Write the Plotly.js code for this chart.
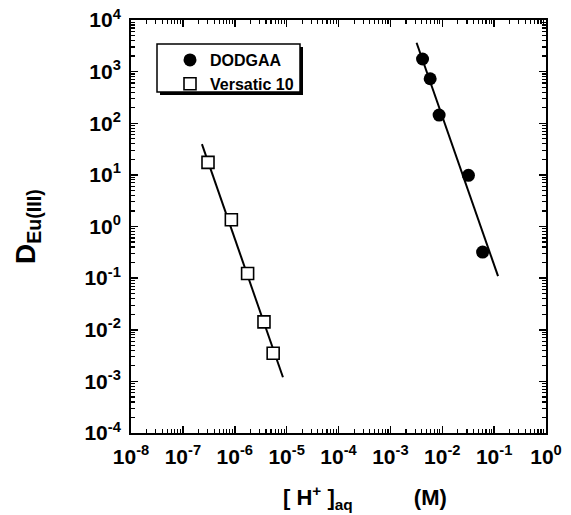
<!DOCTYPE html>
<html>
<head>
<meta charset="utf-8">
<script src="https://cdn.plot.ly/plotly-3.0.1.min.js"></script>
<style>html,body{margin:0;padding:0;background:#fff;}#chart{width:571px;height:515px;}</style>
</head>
<body>
<div id="chart"></div>
<script>
// ---- data ----
const versaticH = [3.05e-7, 8.6e-7, 1.77e-6, 3.66e-6, 5.5e-6];
const versaticD = [17.5, 1.35, 0.123, 0.0142, 0.0035];
const dodgaaH = [4.17e-3, 5.85e-3, 8.7e-3, 0.032, 0.060];
const dodgaaD = [1755, 728, 144, 9.8, 0.32];
const versaticFitH = [2.33e-7, 8.5e-6];
const versaticFitD = [39.5, 1.2e-3];
const dodgaaFitH = [3.2e-3, 0.119];
const dodgaaFitD = [3630, 0.109];
const xTickVals = [1e-8, 1e-7, 1e-6, 1e-5, 1e-4, 1e-3, 1e-2, 1e-1, 1];
const xTickText = ['10<sup>-8</sup>','10<sup>-7</sup>','10<sup>-6</sup>','10<sup>-5</sup>','10<sup>-4</sup>','10<sup>-3</sup>','10<sup>-2</sup>','10<sup>-1</sup>','10<sup>0</sup>'];
const yTickVals = [1e-4, 1e-3, 1e-2, 1e-1, 1, 1e1, 1e2, 1e3, 1e4];
const yTickText = ['10<sup>-4</sup>','10<sup>-3</sup>','10<sup>-2</sup>','10<sup>-1</sup>','10<sup>0</sup>','10<sup>1</sup>','10<sup>2</sup>','10<sup>3</sup>','10<sup>4</sup>'];
const names = ['DODGAA', 'Versatic 10'];

const FONT = 'Liberation Sans, Arial, Helvetica, sans-serif';
// pixel -> paper helpers (plot area 131..546 x 20..433)
const L = 131, R = 546, T = 20, B = 433;
const px = v => (v - L) / (R - L);
const py = v => (B - v) / (B - T);

// minor tick positions (2..9 within each decade) for the log axes
function minorTicks(majors) {
  const out = [];
  for (let i = 0; i < majors.length - 1; i++) {
    for (let m = 2; m <= 9; m++) out.push(majors[i] * m);
  }
  return out;
}

const traces = [
  {x: dodgaaFitH, y: dodgaaFitD, mode: 'lines', line: {color: '#000', width: 2}, showlegend: false, hoverinfo: 'skip'},
  {x: versaticFitH, y: versaticFitD, mode: 'lines', line: {color: '#000', width: 2}, showlegend: false, hoverinfo: 'skip'},
  {x: dodgaaH, y: dodgaaD, mode: 'markers', name: names[0], legendgroup: 'a',
   marker: {symbol: 'circle', size: 13, color: '#000', line: {color: '#000', width: 0}}},
  {x: versaticH, y: versaticD, mode: 'markers', name: names[1], legendgroup: 'b',
   marker: {symbol: 'square', size: 12, color: '#fff', line: {color: '#000', width: 1.6}}},
  // empty trace so that the minor-tick overlay axes exist
  {x: [], y: [], xaxis: 'x2', yaxis: 'y2', mode: 'markers', showlegend: false, hoverinfo: 'skip'}
];

const axisCommon = {
  type: 'log', tickmode: 'array', showgrid: false, zeroline: false,
  showline: true, linecolor: '#000', linewidth: 2, mirror: 'allticks',
  ticks: 'inside', ticklen: 7, tickwidth: 1.5, tickcolor: '#000',
  ticklabelstandoff: 4,
  tickfont: {family: FONT, size: 21, color: '#000', weight: 'bold'}
};
const minorAxis = {
  type: 'log', tickmode: 'array', showgrid: false, zeroline: false, showline: false,
  showticklabels: false, ticks: 'inside', ticklen: 4, tickwidth: 1.2, tickcolor: '#000', mirror: 'ticks'
};

const layout = {
  width: 571, height: 515,
  margin: {l: L, r: 571 - R, t: T, b: 515 - B},
  paper_bgcolor: '#fff', plot_bgcolor: '#fff',
  showlegend: true,
  xaxis: Object.assign({}, axisCommon, {range: [-8, 0], tickvals: xTickVals, ticktext: xTickText, title: {text: ''}}),
  yaxis: Object.assign({}, axisCommon, {range: [-4, 4], tickvals: yTickVals, ticktext: yTickText, title: {text: ''}}),
  xaxis2: Object.assign({}, minorAxis, {overlaying: 'x', anchor: 'y2', side: 'bottom', range: [-8, 0], tickvals: minorTicks(xTickVals)}),
  yaxis2: Object.assign({}, minorAxis, {overlaying: 'y', anchor: 'x2', side: 'left', range: [-4, 4], tickvals: minorTicks(yTickVals)}),
  legend: {x: px(170), y: py(43), xanchor: 'left', yanchor: 'top', bgcolor: 'rgba(0,0,0,0)', borderwidth: 0,
           font: {family: FONT, size: 16, color: '#000', weight: 'bold'}, traceorder: 'grouped', tracegroupgap: 0},
  shapes: [
    {type: 'rect', xref: 'paper', yref: 'paper', x0: px(160), x1: px(303), y0: py(47), y1: py(95), fillcolor: '#000', line: {width: 0}, layer: 'above'},
    {type: 'rect', xref: 'paper', yref: 'paper', x0: px(157), x1: px(300), y0: py(44), y1: py(92), fillcolor: '#fff', line: {color: '#000', width: 1.5}, layer: 'above'}
  ],
  annotations: [
    {xref: 'paper', yref: 'paper', x: px(365), y: py(497), xanchor: 'center', yanchor: 'middle', showarrow: false,
     text: '[ H<sup>+</sup> ]<sub>aq</sub>\u00A0\u00A0\u00A0\u00A0\u00A0\u00A0\u00A0\u00A0\u00A0\u00A0(M)',
     font: {family: FONT, size: 22, color: '#000', weight: 'bold'}},
    {xref: 'paper', yref: 'paper', x: px(27), y: py(226), xanchor: 'center', yanchor: 'middle', showarrow: false, textangle: -90,
     text: 'D<sub>Eu(III)</sub>', font: {family: FONT, size: 28, color: '#000', weight: 'bold'}}
  ]
};

Plotly.newPlot('chart', traces, layout, {staticPlot: true, displayModeBar: false});
</script>
</body>
</html>
